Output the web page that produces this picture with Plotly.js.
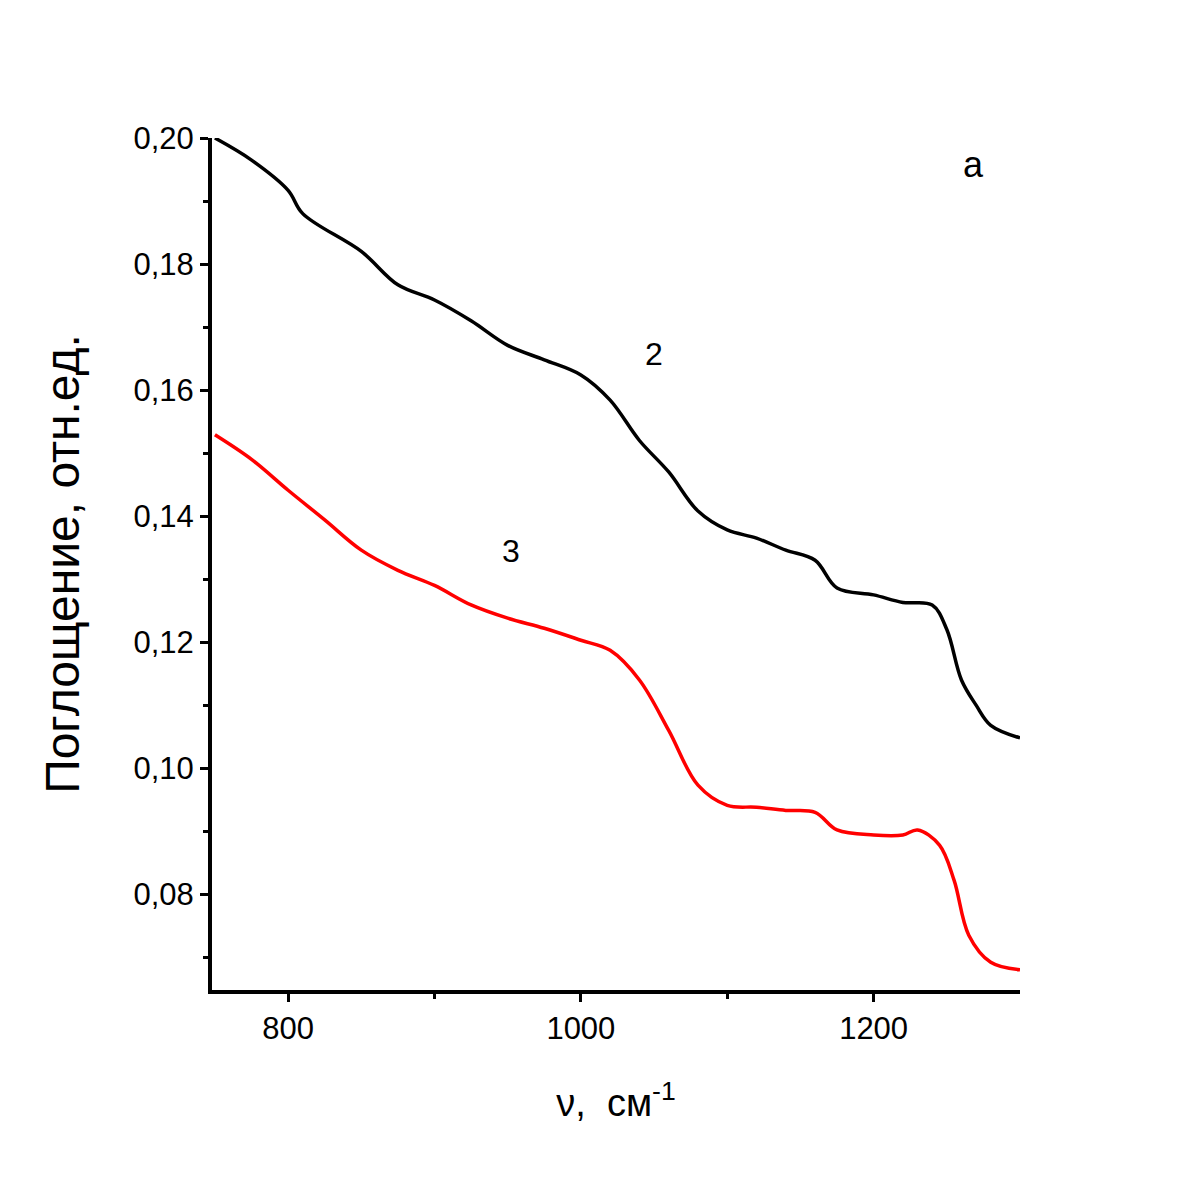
<!DOCTYPE html>
<html>
<head>
<meta charset="utf-8">
<script src="https://cdn.plot.ly/plotly-3.0.1.min.js"></script>
</head>
<body style="margin:0">
<div id="chart" style="width:1185px;height:1185px"></div>
<script>
// curve 2 (black)
var nu2 = [750, 775, 800, 810, 850, 875, 900, 925, 950, 975, 1000, 1020, 1040, 1060, 1080, 1100, 1120, 1140, 1160, 1175, 1200, 1220, 1240, 1250, 1260, 1270, 1280, 1300];
var abs2 = [0.200, 0.1965, 0.1917, 0.188, 0.182, 0.1767, 0.1743, 0.171, 0.1671, 0.1648, 0.1624, 0.1584, 0.152, 0.147, 0.1408, 0.1378, 0.1365, 0.1346, 0.133, 0.1286, 0.1275, 0.1263, 0.1259, 0.122, 0.114, 0.110, 0.1068, 0.1048];
// curve 3 (red)
var nu3 = [750, 775, 800, 825, 850, 875, 900, 925, 950, 975, 1000, 1020, 1040, 1060, 1080, 1100, 1120, 1140, 1160, 1175, 1200, 1220, 1230, 1245, 1255, 1265, 1280, 1300];
var abs3 = [0.1529, 0.149, 0.1441, 0.1394, 0.1346, 0.1314, 0.129, 0.1259, 0.1238, 0.1222, 0.1203, 0.1187, 0.114, 0.106, 0.0973, 0.0941, 0.0938, 0.0933, 0.093, 0.0902, 0.0894, 0.0894, 0.0902, 0.0878, 0.0822, 0.0735, 0.0692, 0.068];

var font = 'Liberation Sans, Arial';

var data = [
    {x: nu2, y: abs2, mode: 'lines', line: {color: 'black', width: 3.5, shape: 'spline'}},
    {x: nu3, y: abs3, mode: 'lines', line: {color: 'red', width: 3.5, shape: 'spline'}}
];

var axisCommon = {
    showgrid: false, zeroline: false, showline: true, linecolor: 'black', linewidth: 4,
    ticks: 'outside', ticklen: 8, tickwidth: 3, tickcolor: 'black',
    tickfont: {family: font, size: 31, color: 'black'},
    minor: {ticks: 'outside', ticklen: 5, tickwidth: 3, tickcolor: 'black'}
};

var layout = {
    showlegend: false,
    paper_bgcolor: 'white', plot_bgcolor: 'white',
    margin: {l: 212, r: 165, t: 138, b: 195},
    xaxis: Object.assign({}, axisCommon, {
        range: [748, 1300], tickvals: [800, 1000, 1200], minor: Object.assign({}, axisCommon.minor, {tickvals: [900, 1100]}),
        title: {text: 'ν,  см<sup>-1</sup>', font: {family: font, size: 38, color: 'black'}, standoff: 45}
    }),
    yaxis: Object.assign({}, axisCommon, {
        range: [0.0648, 0.2], tickvals: [0.08, 0.10, 0.12, 0.14, 0.16, 0.18, 0.20],
        ticktext: ['0,08', '0,10', '0,12', '0,14', '0,16', '0,18', '0,20'],
        minor: Object.assign({}, axisCommon.minor, {tickvals: [0.07, 0.09, 0.11, 0.13, 0.15, 0.17, 0.19]}),
        title: {text: 'Поглощение, отн.ед.', font: {family: font, size: 48, color: 'black'}, standoff: 40}
    }),
    annotations: [
        {x: 1268, y: 0.1958, text: 'a', showarrow: false, font: {family: font, size: 36, color: 'black'}},
        {x: 1050, y: 0.1657, text: '2', showarrow: false, font: {family: font, size: 32, color: 'black'}},
        {x: 952, y: 0.1344, text: '3', showarrow: false, font: {family: font, size: 32, color: 'black'}}
    ]
};

Plotly.newPlot('chart', data, layout, {displayModeBar: false});
</script>
</body>
</html>
